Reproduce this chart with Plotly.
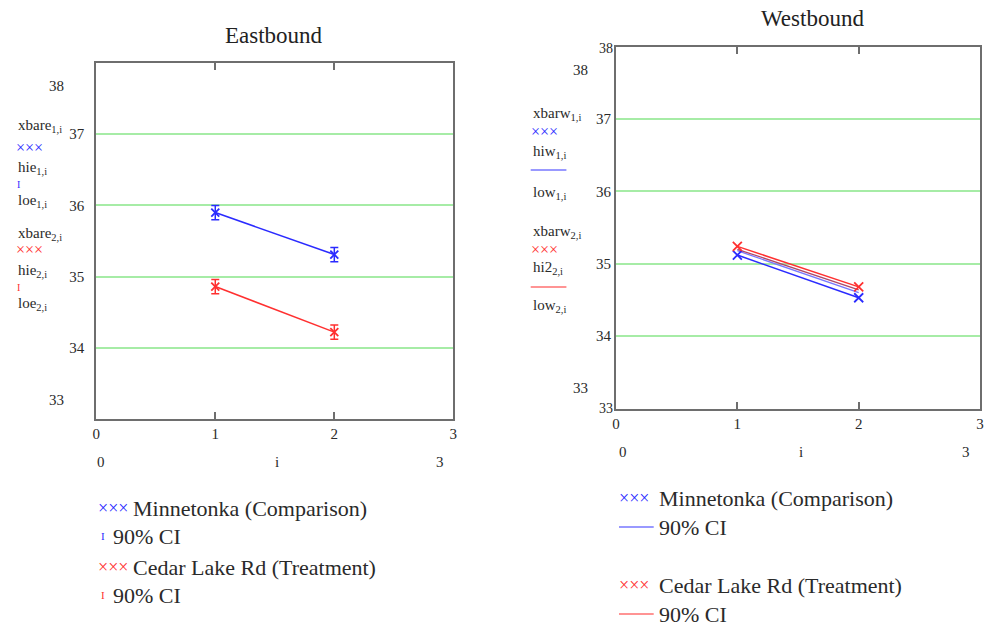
import plotly.graph_objects as go

# ---------------- data ----------------
idx = [1, 2]

# Eastbound
xbare1 = [35.90, 35.31]
hie1 = [36.00, 35.41]
loe1 = [35.80, 35.21]
xbare2 = [34.86, 34.22]
hie2 = [34.96, 34.32]
loe2 = [34.76, 34.12]

# Westbound
xbarw1 = [35.12, 34.53]
hiw1 = [35.18, 34.60]
xbarw2 = [35.24, 34.68]
hi22 = [35.20, 34.64]

x_ticks = [0, 1, 2, 3]
y_ticks = [34, 35, 36, 37]

BLUE = "#2b2bff"
RED = "#ff3030"
FONT = "Liberation Serif, Times New Roman, serif"
TXT = "#2a2a2a"
W, H = 989, 626


def px(x):
    return x / W


def py(y):
    return 1 - y / H


fig = go.Figure()

# ---- Eastbound traces ----
fig.add_trace(go.Scatter(
    x=idx, y=xbare1, mode="lines+markers", xaxis="x", yaxis="y",
    line=dict(color=BLUE, width=1.5),
    marker=dict(symbol="x-thin", size=8, line=dict(color=BLUE, width=1.8)),
    error_y=dict(type="data", symmetric=False,
                 array=[h - m for h, m in zip(hie1, xbare1)],
                 arrayminus=[m - l for m, l in zip(xbare1, loe1)],
                 color=BLUE, thickness=1.5, width=4),
    showlegend=False))
fig.add_trace(go.Scatter(
    x=idx, y=xbare2, mode="lines+markers", xaxis="x", yaxis="y",
    line=dict(color=RED, width=1.5),
    marker=dict(symbol="x-thin", size=8, line=dict(color=RED, width=1.8)),
    error_y=dict(type="data", symmetric=False,
                 array=[h - m for h, m in zip(hie2, xbare2)],
                 arrayminus=[m - l for m, l in zip(xbare2, loe2)],
                 color=RED, thickness=1.5, width=4),
    showlegend=False))

# ---- Westbound traces ----
fig.add_trace(go.Scatter(x=idx, y=hiw1, mode="lines", xaxis="x2", yaxis="y2",
                         line=dict(color="#7777ff", width=1.3), showlegend=False))
fig.add_trace(go.Scatter(x=idx, y=hi22, mode="lines", xaxis="x2", yaxis="y2",
                         line=dict(color="#b04868", width=1.3), showlegend=False))
fig.add_trace(go.Scatter(
    x=idx, y=xbarw1, mode="lines+markers", xaxis="x2", yaxis="y2",
    line=dict(color=BLUE, width=1.5),
    marker=dict(symbol="x-thin", size=9, line=dict(color=BLUE, width=1.8)),
    showlegend=False))
fig.add_trace(go.Scatter(
    x=idx, y=xbarw2, mode="lines+markers", xaxis="x2", yaxis="y2",
    line=dict(color=RED, width=1.5),
    marker=dict(symbol="x-thin", size=9, line=dict(color=RED, width=1.8)),
    showlegend=False))


def xaxis_cfg():
    return dict(range=[0, 3], tickvals=x_ticks, ticktext=[str(v) for v in x_ticks],
                ticks="inside", ticklen=7, tickcolor="#6e6e6e", tickwidth=1.5,
                showgrid=False, showline=True, linecolor="#6e6e6e", linewidth=2,
                mirror="allticks", zeroline=False,
                tickfont=dict(family=FONT, size=15, color=TXT))


def yaxis_cfg(standoff):
    return dict(range=[33, 38], tickvals=y_ticks, ticktext=[str(v) for v in y_ticks],
                ticks="", showgrid=True, gridcolor="#a6eca6", gridwidth=1.5,
                showline=True, linecolor="#6e6e6e", linewidth=2, mirror=True,
                zeroline=False, ticklabelstandoff=standoff,
                tickfont=dict(family=FONT, size=15, color=TXT))


fig.update_layout(
    width=W, height=H, margin=dict(l=0, r=0, t=0, b=0),
    paper_bgcolor="white", plot_bgcolor="white", showlegend=False,
    xaxis=dict(domain=[px(93), px(453)], anchor="y", **xaxis_cfg()),
    yaxis=dict(domain=[py(419), py(63)], anchor="x", **yaxis_cfg(7)),
    xaxis2=dict(domain=[px(617), px(984)], anchor="y2", **xaxis_cfg()),
    yaxis2=dict(domain=[py(408.5), py(46.6)], anchor="x2", **yaxis_cfg(0)),
)

ann = []


def text(x, y, s, size=15, color=TXT, xanchor="left"):
    ann.append(dict(x=px(x), y=py(y), xref="paper", yref="paper", text=s,
                    showarrow=False, xanchor=xanchor, yanchor="middle",
                    font=dict(family=FONT, size=size, color=color)))


# titles
text(272, 35, "Eastbound", 23, "#222", "center")
text(815, 18, "Westbound", 23, "#222", "center")

# extra Mathcad limit labels
text(63, 86, "38", 15, TXT, "right")
text(63, 400, "33", 15, TXT, "right")
text(591, 70, "38", 15, TXT, "right")
text(591, 388, "33", 15, TXT, "right")
text(616, 48, "38", 14, TXT, "right")
text(616, 408, "33", 14, TXT, "right")

# second x-row
text(98, 462, "0", 15, TXT, "center")
text(275, 462, "i", 15, TXT, "center")
text(440, 462, "3", 15, TXT, "center")
text(624, 452, "0", 15, TXT, "center")
text(803, 452, "i", 15, TXT, "center")
text(970, 452, "3", 15, TXT, "center")

# left y-axis expression labels (Eastbound)
text(12, 126, "xbare<sub>1,i</sub>")
text(10, 148, "×××", 16, BLUE)
text(12, 168, "hie<sub>1,i</sub>")
text(11, 184, "I", 10, BLUE)
text(12, 201, "loe<sub>1,i</sub>")
text(12, 234, "xbare<sub>2,i</sub>")
text(10, 249, "×××", 16, RED)
text(12, 271, "hie<sub>2,i</sub>")
text(11, 287, "I", 10, RED)
text(12, 304, "loe<sub>2,i</sub>")

# left y-axis expression labels (Westbound)
text(531, 114, "xbarw<sub>1,i</sub>")
text(529, 131, "×××", 16, BLUE)
text(531, 152, "hiw<sub>1,i</sub>")
text(531, 193, "low<sub>1,i</sub>")
text(531, 232, "xbarw<sub>2,i</sub>")
text(529, 249, "×××", 16, RED)
text(531, 268, "hi2<sub>2,i</sub>")
text(531, 306, "low<sub>2,i</sub>")

# bottom legends
LS = 22
text(93, 508, "×××", 18, BLUE)
text(128, 508, "Minnetonka (Comparison)", LS)
text(96, 536, "I", 11, BLUE)
text(108, 536, "90% CI", LS)
text(93, 567, "×××", 18, RED)
text(128, 567, "Cedar Lake Rd (Treatment)", LS)
text(96, 595, "I", 11, RED)
text(108, 595, "90% CI", LS)

text(618, 498, "×××", 18, BLUE)
text(658, 498, "Minnetonka (Comparison)", LS)
text(658, 527, "90% CI", LS)
text(618, 585, "×××", 18, RED)
text(658, 585, "Cedar Lake Rd (Treatment)", LS)
text(658, 614, "90% CI", LS)

fig.update_layout(annotations=ann)

shapes = []
for x0, x1, y, c in [(531, 567, 170, "#7777ff"), (531, 567, 287, "#ff7070"),
                     (620, 655, 527, "#7777ff"), (620, 655, 614, "#ff7070")]:
    shapes.append(dict(type="line", xref="paper", yref="paper",
                       x0=px(x0), x1=px(x1), y0=py(y), y1=py(y),
                       line=dict(color=c, width=1.5)))
fig.update_layout(shapes=shapes)

fig.write_html("out.html")
